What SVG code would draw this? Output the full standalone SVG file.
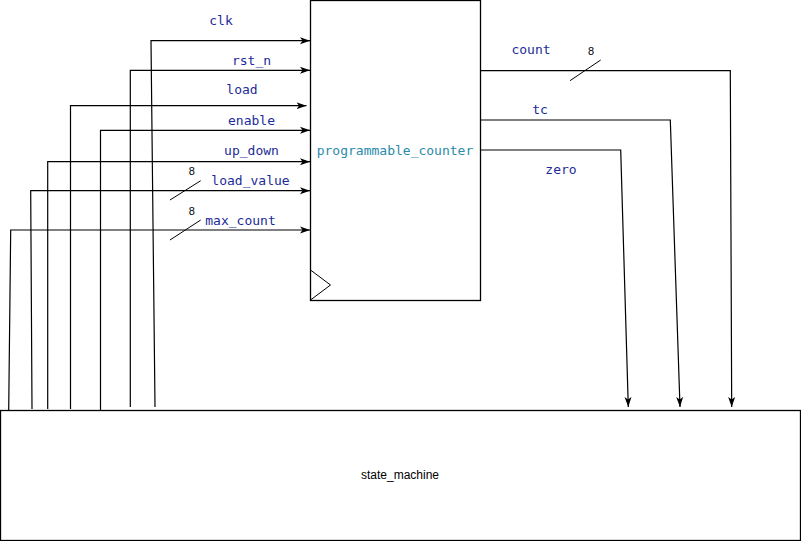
<svg xmlns="http://www.w3.org/2000/svg" width="801" height="541" viewBox="0 0 801 541">
  <style>
    .box { fill: #ffffff; stroke: #000000; stroke-width: 1.3; }
    .wire { fill: none; stroke: #000000; stroke-width: 1.2; }
    .tick { fill: none; stroke: #000000; stroke-width: 1; }
    .sig { font-family: "DejaVu Sans Mono", "Liberation Mono", monospace; font-size: 13px; fill: #1c2b99; text-anchor: middle; }
    .mod { font-family: "DejaVu Sans Mono", "Liberation Mono", monospace; font-size: 13px; fill: #2a8aa8; text-anchor: middle; }
    .width { font-family: "Liberation Sans", Arial, sans-serif; font-size: 11px; fill: #000000; text-anchor: middle; }
    .name { font-family: "Liberation Sans", Arial, sans-serif; font-size: 12px; fill: #000000; text-anchor: middle; }
  </style>
  <defs>
    <marker id="arrow" viewBox="0 0 10 10" refX="10" refY="5" markerWidth="10" markerHeight="10" markerUnits="userSpaceOnUse" orient="auto">
      <path d="M0,1.5 L10,5 L0,8.5 L2.5,5 Z" fill="#000000"/>
    </marker>
  </defs>

  <rect width="801" height="541" fill="#ffffff"/>

  <!-- counter module -->
  <g id="programmable_counter">
    <rect class="box" x="310.5" y="0.5" width="170" height="300"/>
    <path class="tick" d="M310.5,270 L330.5,285 L310.5,300"/>
    <text class="mod" x="395" y="155">programmable_counter</text>
  </g>

  <!-- controller module -->
  <g id="state_machine">
    <rect class="box" x="0.5" y="410.5" width="800" height="130"/>
    <text class="name" x="400" y="479">state_machine</text>
  </g>

  <!-- wires between the modules -->
  <g id="connectors">
    <!-- state_machine outputs into the counter -->
    <path class="wire" d="M155,407 L151,40.7 L310,40.7" marker-end="url(#arrow)"/>
    <path class="wire" d="M130.3,407 L130.3,70.3 L310,70.3" marker-end="url(#arrow)"/>
    <path class="wire" d="M70.5,409 L70.5,105.7 L306.5,105.7" marker-end="url(#arrow)"/>
    <path class="wire" d="M100.5,410 L100.5,130.3 L310,130.3" marker-end="url(#arrow)"/>
    <path class="wire" d="M47.7,409 L47.7,161.7 L310,161.7" marker-end="url(#arrow)"/>
    <path class="wire" d="M32,409 L30.7,190.7 L310,190.7" marker-end="url(#arrow)"/>
    <path class="wire" d="M8.7,410 L10.7,230 L310,230" marker-end="url(#arrow)"/>

    <!-- counter outputs back to the state_machine -->
    <path class="wire" d="M480.5,70.7 L730.3,70.7 L731.7,407" marker-end="url(#arrow)"/>
    <path class="wire" d="M480.5,120 L670.3,120 L680,407" marker-end="url(#arrow)"/>
    <path class="wire" d="M480.5,150 L620.7,150 L628.3,407" marker-end="url(#arrow)"/>

    <!-- bus width marks -->
    <line class="tick" x1="170" y1="200" x2="200.7" y2="180.7"/>
    <line class="tick" x1="170" y1="240" x2="200.7" y2="220"/>
    <line class="tick" x1="570" y1="80.7" x2="600.7" y2="60"/>
  </g>

  <!-- signal labels -->
  <g id="labels">
    <text class="sig" x="221" y="25">clk</text>
    <text class="sig" x="251.5" y="65">rst_n</text>
    <text class="sig" x="242" y="94">load</text>
    <text class="sig" x="251.5" y="125">enable</text>
    <text class="sig" x="251.5" y="155">up_down</text>
    <text class="sig" x="250.5" y="185">load_value</text>
    <text class="sig" x="240.5" y="225">max_count</text>
    <text class="sig" x="531" y="54">count</text>
    <text class="sig" x="540" y="114">tc</text>
    <text class="sig" x="561" y="174">zero</text>
    <text class="width" x="191.7" y="175">8</text>
    <text class="width" x="191.7" y="215">8</text>
    <text class="width" x="591" y="55">8</text>
  </g>
</svg>
